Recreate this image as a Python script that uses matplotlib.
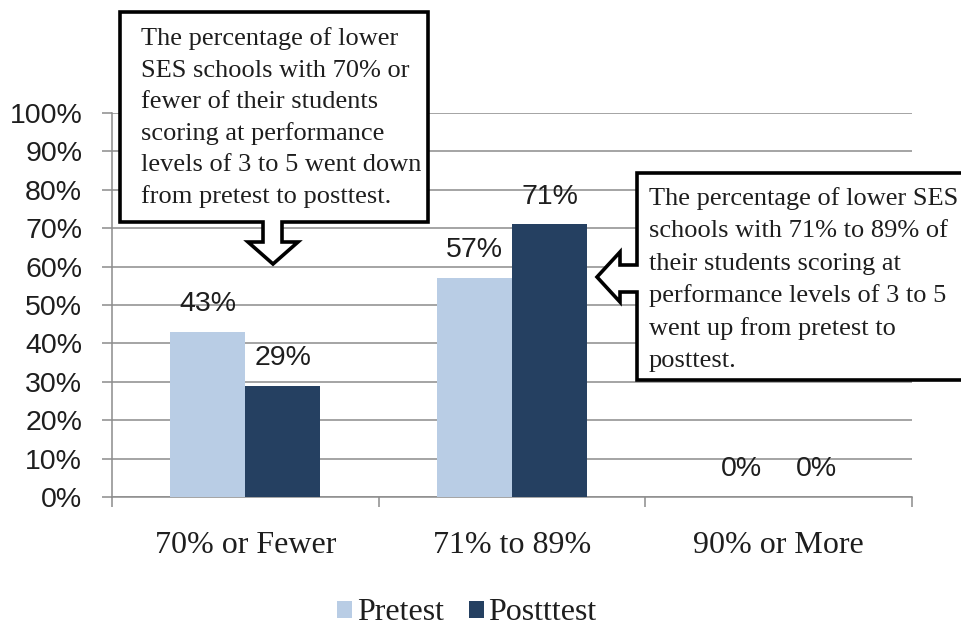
import matplotlib
matplotlib.use("Agg")
import matplotlib.pyplot as plt
from matplotlib.patches import Polygon, Patch
from matplotlib.transforms import Affine2D
import numpy as np

# ---- data ----
categories = ["70% or Fewer", "71% to 89%", "90% or More"]
pretest = [43, 57, 0]
posttest = [29, 71, 0]
series_names = ["Pretest", "Postttest"]
y_ticks = [0, 10, 20, 30, 40, 50, 60, 70, 80, 90, 100]

note_down = [
    "The percentage of lower",
    "SES schools with 70% or",
    "fewer of their students",
    "scoring at performance",
    "levels of 3 to 5 went down",
    "from pretest to posttest.",
]
note_up = [
    "The percentage of lower SES",
    "schools with 71% to 89% of",
    "their students scoring at",
    "performance levels of 3 to 5",
    "went up from pretest to",
    "posttest.",
]

# ---- style ----
W, H = 961, 630
c_pre = "#B9CDE5"
c_post = "#254061"
grid_c = "#8C8C8C"
txt_c = "#1E1E1E"
serif = ["Liberation Serif", "DejaVu Serif"]
sans = ["Liberation Sans", "DejaVu Sans"]

fig = plt.figure(figsize=(W / 100, H / 100), dpi=100)
fig.patch.set_facecolor("white")
ax = fig.add_axes([112 / W, (H - 497) / H, 800 / W, 384 / H])

x = np.arange(len(categories))
bw = 0.281
b1 = ax.bar(x - bw / 2, pretest, bw, color=c_pre, zorder=3)
b2 = ax.bar(x + bw / 2, posttest, bw, color=c_post, zorder=3)

for bars, vals in ((b1, pretest), (b2, posttest)):
    for rect, v in zip(bars, vals):
        ax.annotate(f"{v}%", (rect.get_x() + rect.get_width() / 2, v),
                    xytext=(0, 20), textcoords="offset points",
                    ha="center", va="center", fontsize=20.5,
                    family=sans, color=txt_c, zorder=4)

ax.set_xlim(-0.5, len(categories) - 0.5)
ax.set_ylim(0, 100)
ax.set_yticks(y_ticks)
ax.set_yticklabels([f"{t}%" for t in y_ticks], family=sans, fontsize=20.5, color=txt_c)
ax.yaxis.grid(True, color=grid_c, linewidth=1.1, zorder=0)
ax.set_axisbelow(True)

ax.set_xticks(x)
ax.set_xticklabels(categories, family=serif, fontsize=23, color=txt_c)
ax.set_xticks(np.arange(-0.5, len(categories), 1.0), minor=True)
ax.tick_params(axis="x", which="major", length=0, pad=24.5)
ax.tick_params(axis="x", which="minor", length=7.5, width=1.1, color=grid_c, direction="out")
ax.tick_params(axis="y", length=7.5, width=1.1, color=grid_c, direction="out", pad=14)

for s in ("top", "right"):
    ax.spines[s].set_visible(False)
for s in ("left", "bottom"):
    ax.spines[s].set_color(grid_c)
    ax.spines[s].set_linewidth(1.1)

# ---- legend ----
handles = [Patch(facecolor=c_pre, edgecolor="none"), Patch(facecolor=c_post, edgecolor="none")]
fig.legend(handles, series_names, loc="center", bbox_to_anchor=(467 / W, 1 - 613 / H),
           ncol=2, frameon=False, prop={"family": serif, "size": 23},
           handlelength=0.45, handleheight=0.45, handletextpad=0.15,
           columnspacing=0.8, labelcolor=txt_c, borderpad=0.2)

# ---- callouts (pixel coordinates, origin at top-left) ----
px = Affine2D().scale(1, -1).translate(0, H)

down_shape = [(120, 12), (428, 12), (428, 222), (282, 222), (282, 242), (298, 242),
              (273, 264), (248, 242), (263, 242), (263, 222), (120, 222)]
left_shape = [(637, 173), (975, 173), (975, 380), (637, 380), (637, 292), (620, 292),
              (620, 302), (597, 277), (620, 252), (620, 265), (637, 265)]

for shape in (down_shape, left_shape):
    fig.add_artist(Polygon(shape, closed=True, facecolor="white", edgecolor="black",
                           linewidth=2.6, joinstyle="miter", transform=px, zorder=5))


def write_lines(lines, left, first_baseline, step):
    for i, line in enumerate(lines):
        fig.text(left, first_baseline + i * step, line, transform=px,
                 family=serif, fontsize=19, color=txt_c,
                 ha="left", va="baseline", zorder=6)


write_lines(note_down, 141, 45, 31.6)
write_lines(note_up, 649, 205, 32.4)

fig.savefig("out.png", dpi=100)
